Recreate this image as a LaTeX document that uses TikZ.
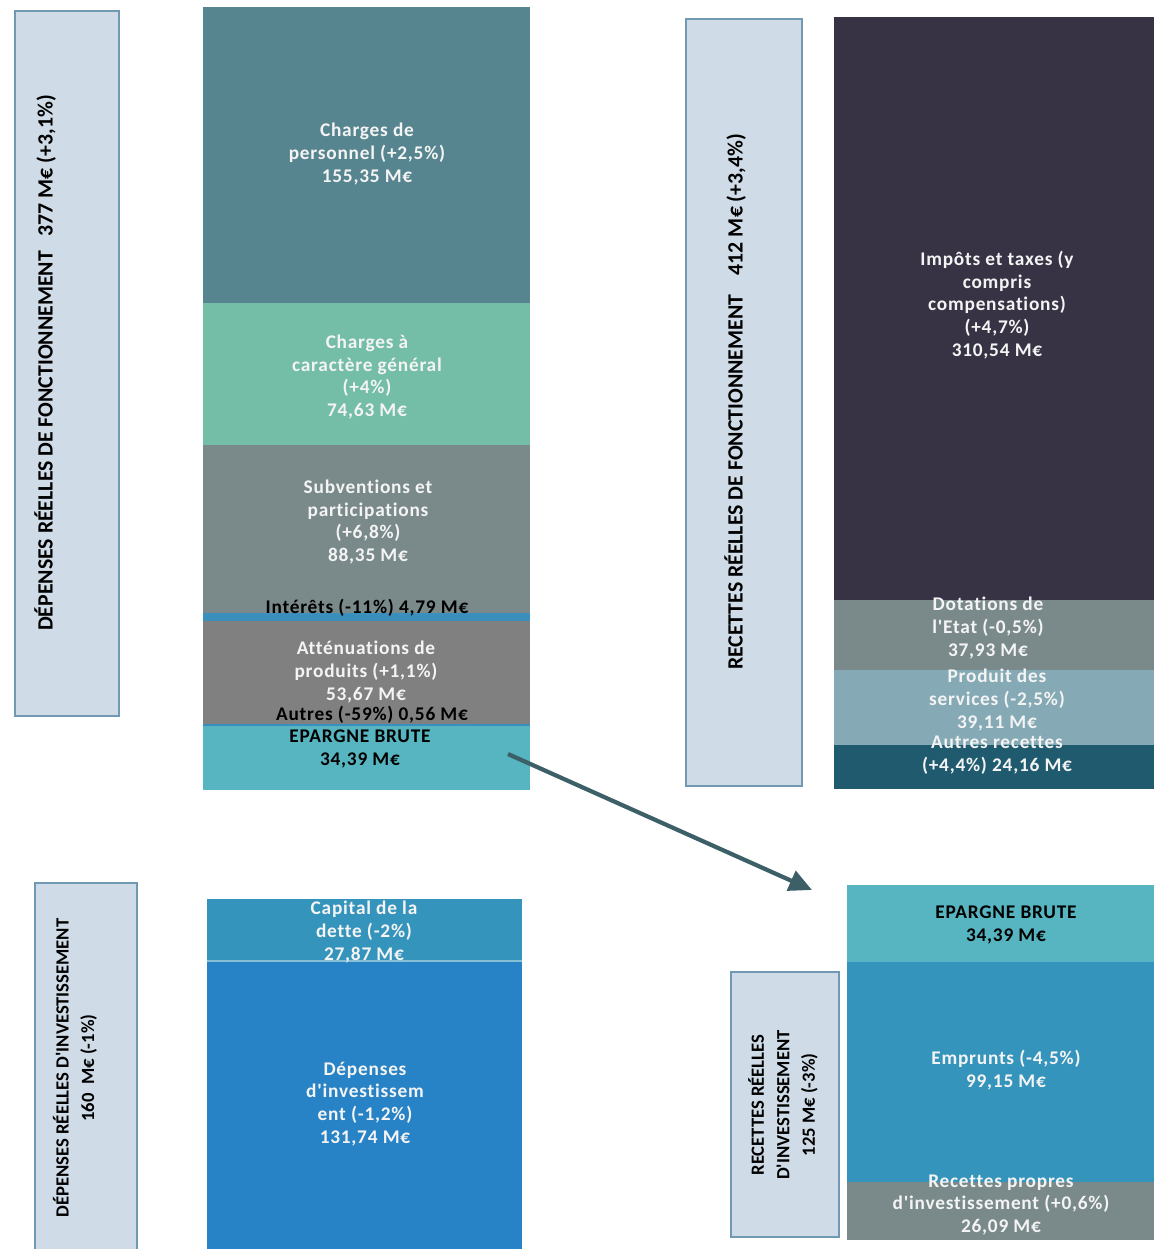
\documentclass[tikz,border=0pt]{standalone}
\usepackage{fontspec}
\setmainfont{Carlito}[Ligatures={TeXOff,NoCommon}]
\usetikzlibrary{arrows.meta}

\definecolor{lblfill}{HTML}{CFDBE6}
\definecolor{lbldraw}{HTML}{7299B4}
\definecolor{perso}{HTML}{57858F}
\definecolor{general}{HTML}{74BDA6}
\definecolor{subv}{HTML}{7A8A8B}
\definecolor{interet}{HTML}{3B8FBD}
\definecolor{attenu}{HTML}{808080}
\definecolor{epargne}{HTML}{56B5C0}
\definecolor{impots}{HTML}{373345}
\definecolor{produit}{HTML}{85AAB5}
\definecolor{autrerec}{HTML}{1F5A6F}
\definecolor{capital}{HTML}{3594BB}
\definecolor{depinv}{HTML}{2783C5}
\definecolor{fleche}{HTML}{3C5F68}
\definecolor{blanc}{HTML}{F4F4F4}

\tikzset{
	lbl/.style={draw=lbldraw, fill=lblfill, line width=1.1pt},
	wtxt/.style={text=blanc, align=center, inner sep=0pt, font=\bfseries\fontsize{11}{13}\selectfont\addfontfeature{LetterSpace=4}},
	btxt/.style={wtxt, text=black},
	vtxt/.style={rotate=90, align=center, inner sep=0pt, font=\bfseries\fontsize{12.4}{15}\selectfont},
	vsmall/.style={vtxt, font=\bfseries\fontsize{10.6}{14.5}\selectfont}
}

\begin{document}
\begin{tikzpicture}[x=0.02cm, y=-0.02cm]
		\useasboundingbox (0, 0) rectangle (1154, 1249);
		
		% depenses de fonctionnement
		\draw[lbl] (15, 11) rectangle (119, 716);
		\node[vtxt] (dfonct) at (45, 363) {DÉPENSES RÉELLES DE FONCTIONNEMENT\ \ \ 377 M€ (+3,1\%)};
		
		\fill[perso] (203, 7) rectangle (530, 303);
		\fill[general] (203, 303) rectangle (530, 445);
		\fill[subv] (203, 445) rectangle (530, 613);
		\fill[interet] (203, 613) rectangle (530, 621);
		\fill[attenu] (203, 621) rectangle (530, 724);
		\fill[interet] (203, 724) rectangle (530, 726);
		\fill[epargne] (203, 726) rectangle (530, 790);
		
		\node[wtxt] (perso) at (367, 154) {Charges de\\personnel (+2,5\%)\\155,35 M€};
		\node[wtxt] (general) at (367, 377) {Charges à\\caractère général\\(+4\%)\\74,63 M€};
		\node[wtxt] (subv) at (368, 522) {Subventions et\\participations\\(+6,8\%)\\88,35 M€};
		\node[btxt] (interet) at (367, 608) {Intérêts (-11\%) 4,79 M€};
		\node[wtxt] (attenu) at (366, 672) {Atténuations de\\produits (+1,1\%)\\53,67 M€};
		\node[btxt] (autres) at (372, 715) {Autres (-59\%) 0,56 M€};
		\node[btxt] (epargne) at (360, 749) {EPARGNE BRUTE\\34,39 M€};
		
		% recettes de fonctionnement
		\draw[lbl] (686, 19) rectangle (802, 786);
		\node[vtxt] (rfonct) at (735, 402) {RECETTES RÉELLES DE FONCTIONNEMENT\ \ \ \ 412 M€ (+3,4\%)};
		
		\fill[impots] (834, 17) rectangle (1154, 600);
		\fill[subv] (834, 600) rectangle (1154, 670);
		\fill[produit] (834, 670) rectangle (1154, 745);
		\fill[autrerec] (834, 745) rectangle (1154, 789);
		
		\node[wtxt] (impots) at (997, 305) {Impôts et taxes (y\\compris\\compensations)\\(+4,7\%)\\310,54 M€};
		\node[wtxt] (dotation) at (988, 628) {Dotations de\\l'Etat (-0,5\%)\\37,93 M€};
		\node[wtxt] (produit) at (997, 700) {Produit des\\services (-2,5\%)\\39,11 M€};
		\node[wtxt] (autrerec) at (997, 755) {Autres recettes\\(+4,4\%) 24,16 M€};
		
		% depenses d'investissement
		\draw[lbl] (35, 883) rectangle (137, 1260);
		\node[vsmall] (dinv) at (75, 1068) {DÉPENSES RÉELLES D'INVESTISSEMENT\\160\ \ M€ (-1\%)};
		
		\fill[capital] (207, 899) rectangle (522, 961);
		\fill[depinv] (207, 961) rectangle (522, 1249);
		\draw[capital!60!white, line width=0.6pt] (207, 961) -- (522, 961);
		
		\node[wtxt] (capital) at (364, 932) {Capital de la\\dette (-2\%)\\27,87 M€};
		\node[wtxt] (depinv) at (365, 1104) {Dépenses\\d'investissem\\ent (-1,2\%)\\131,74 M€};
		
		% recettes d'investissement
		\draw[lbl] (731, 972) rectangle (839, 1237);
		\node[vsmall] (rinv) at (783, 1105) {RECETTES RÉELLES\\D'INVESTISSEMENT\\125 M€ (-3\%)};
		
		\fill[epargne] (847, 885) rectangle (1154, 962);
		\fill[capital] (847, 962) rectangle (1154, 1182);
		\fill[subv] (847, 1182) rectangle (1154, 1240);
		
		\node[btxt] (epargne2) at (1006, 925) {EPARGNE BRUTE\\34,39 M€};
		\node[wtxt] (emprunt) at (1006, 1070) {Emprunts (-4,5\%)\\99,15 M€};
		\node[wtxt] (propres) at (1001, 1205) {Recettes propres\\d'investissement (+0,6\%)\\26,09 M€};
		
		% transfert de l'epargne brute
		\coordinate (arrS) at (508, 754);
		\coordinate (arrE) at (812, 890);
		\draw[fleche, line width=2.4pt, -{Triangle[length=13pt, width=12pt]}] (arrS) -- (arrE);
	\end{tikzpicture}
\end{document}
